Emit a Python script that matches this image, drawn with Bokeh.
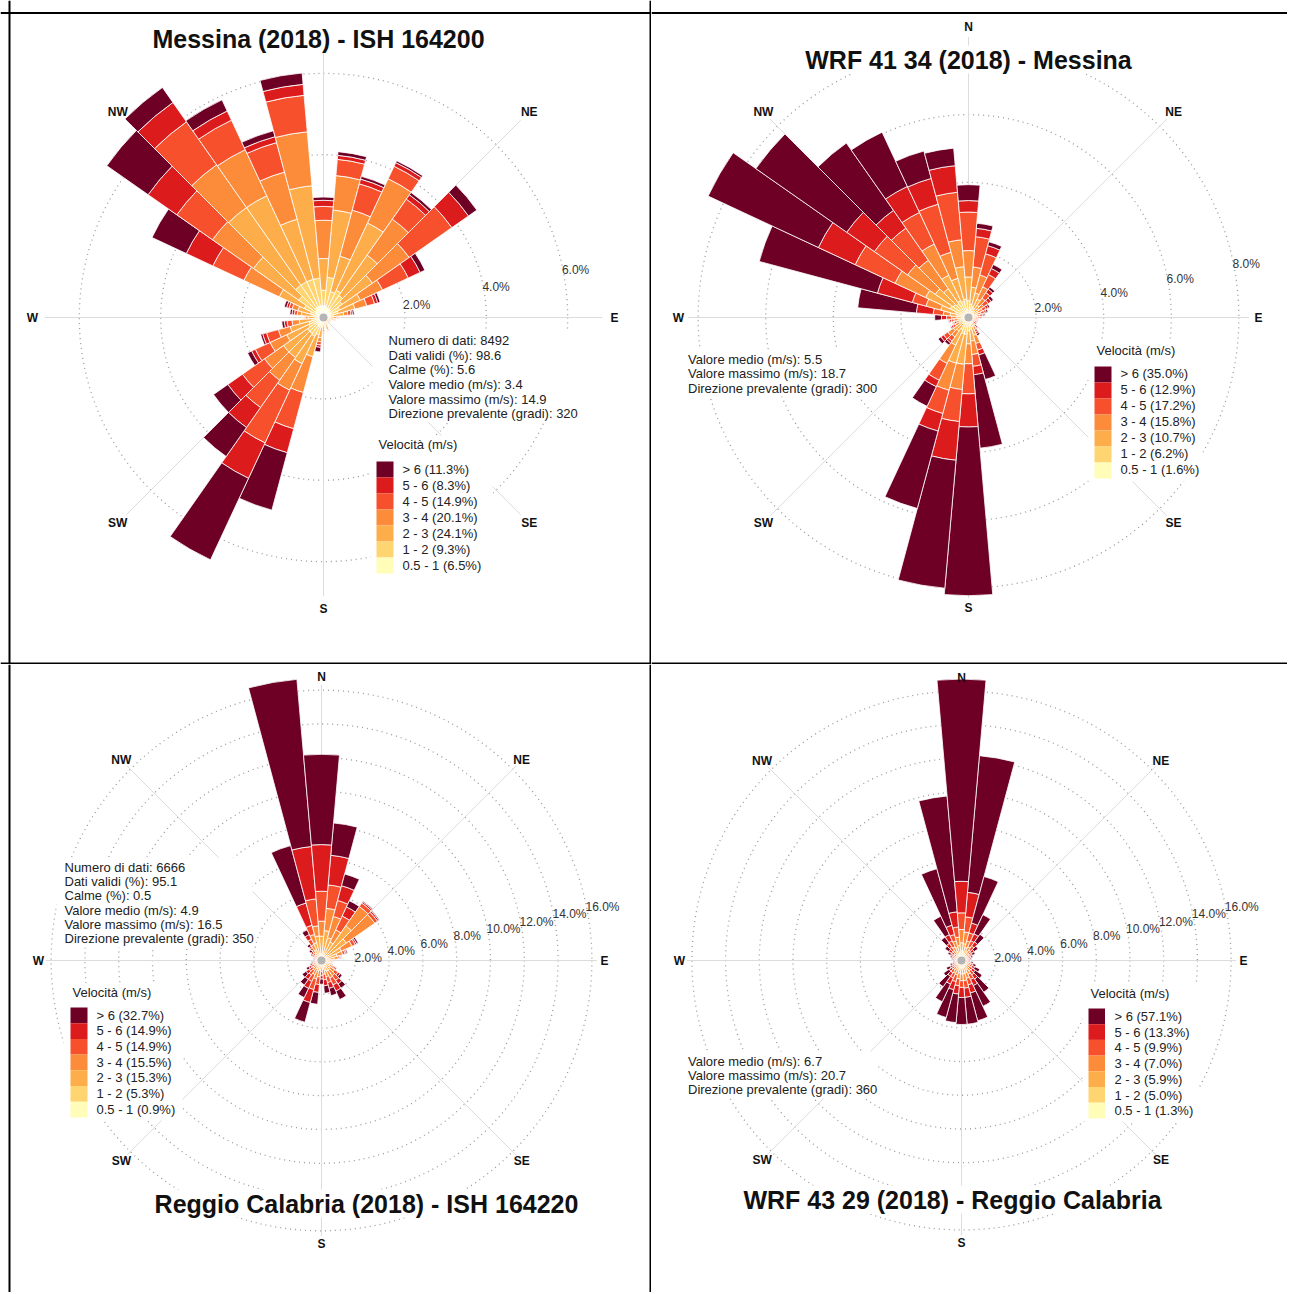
import math
from bokeh.plotting import figure
from bokeh.layouts import gridplot
from bokeh.models import ColumnDataSource, Span, Label
from bokeh.embed import file_html
from bokeh.resources import INLINE
from bokeh.core.properties import value

FONT = "Liberation Sans"

# ---------------- data ----------------
directions = list(range(10, 370, 10))          # 10 .. 360 degrees
speed_classes = ["0.5 - 1", "1 - 2", "2 - 3", "3 - 4", "4 - 5", "5 - 6", "> 6"]
palette = ["#FFFDB8", "#FED571", "#FDAE4A", "#FC8B3A", "#F6512C", "#DC1B1D", "#6E0026"]

# Messina (2018) - ISH 164200  (frequency %, per direction)
ms_obs_05_1 = [0.29,0.25,0.25,0.25,0.22,0.22,0.18,0.14,0.11,0.09,0.07,0.07,0.06,0.06,0.07,0.11,0.07,0.11,0.14,0.22,0.25,0.22,0.22,0.18,0.18,0.14,0.11,0.14,0.14,0.22,0.25,0.29,0.29,0.29,0.29,0.29]
ms_obs_1_2 = [0.70,0.41,0.49,0.41,0.34,0.22,0.19,0.11,0.08,0.06,0.04,0.04,0.03,0.03,0.04,0.08,0.04,0.08,0.11,0.22,0.26,0.26,0.26,0.22,0.19,0.15,0.10,0.15,0.19,0.30,0.49,0.68,0.68,0.68,0.68,0.38]
ms_obs_2_3 = [1.66,0.90,1.82,1.21,0.91,0.56,0.43,0.25,0.13,0.10,0.07,0.07,0.05,0.05,0.07,0.12,0.07,0.11,0.25,0.56,0.74,0.72,0.72,0.60,0.48,0.31,0.17,0.26,0.32,0.68,1.36,2.33,2.33,1.53,2.28,0.78]
ms_obs_3_4 = [0.85,1.17,1.20,1.08,1.10,0.60,0.30,0.10,0.04,0.03,0.02,0.02,0.01,0.01,0.02,0.03,0.02,0.05,0.10,0.91,0.72,0.68,0.57,0.45,0.30,0.18,0.06,0.10,0.15,0.96,1.23,1.28,1.25,1.20,1.33,0.94]
ms_obs_4_5 = [0.40,0.67,0.34,0.60,1.28,0.70,0.20,0.08,0.02,0.01,0.00,0.00,0.00,0.00,0.00,0.01,0.00,0.03,0.08,0.92,1.43,0.82,0.66,0.40,0.30,0.12,0.03,0.07,0.08,0.84,1.07,1.29,0.80,0.75,0.90,0.34]
ms_obs_5_6 = [0.10,0.12,0.10,0.13,0.50,0.32,0.08,0.04,0.01,0.01,0.00,0.00,0.00,0.00,0.00,0.00,0.00,0.01,0.06,0.61,0.96,0.60,0.44,0.10,0.10,0.07,0.02,0.06,0.06,0.72,0.86,0.58,0.25,0.15,0.27,0.15]
ms_obs_gt6 = [0.09,0.07,0.05,0.07,0.25,0.13,0.06,0.04,0.01,0.00,0.00,0.00,0.00,0.00,0.00,0.00,0.00,0.01,0.11,1.46,2.21,0.87,0.43,0.11,0.05,0.06,0.01,0.05,0.06,0.93,1.24,0.45,0.30,0.15,0.28,0.08]
ms_obs_legend = [6.5, 9.3, 24.1, 20.1, 14.9, 8.3, 11.3]

# WRF 41 34 (2018) - Messina
ms_wrf_05_1 = [0.10,0.10,0.10,0.08,0.07,0.06,0.05,0.05,0.04,0.03,0.03,0.03,0.03,0.04,0.08,0.10,0.10,0.10,0.10,0.10,0.10,0.08,0.08,0.06,0.05,0.06,0.07,0.15,0.12,0.15,0.15,0.15,0.15,0.15,0.15,0.15]
ms_wrf_1_2 = [0.30,0.25,0.20,0.17,0.13,0.12,0.10,0.09,0.08,0.06,0.06,0.06,0.06,0.08,0.12,0.20,0.25,0.30,0.40,0.40,0.30,0.17,0.22,0.12,0.10,0.12,0.13,0.20,0.28,0.45,0.40,0.35,0.40,0.35,0.40,0.35]
ms_wrf_2_3 = [0.50,0.40,0.30,0.20,0.18,0.14,0.12,0.10,0.08,0.06,0.06,0.06,0.06,0.08,0.10,0.25,0.35,0.38,0.89,0.90,0.50,0.25,0.25,0.14,0.12,0.14,0.15,0.20,0.45,0.80,0.65,0.54,0.83,0.70,0.96,0.70]
ms_wrf_3_4 = [0.60,0.55,0.40,0.25,0.17,0.14,0.12,0.10,0.08,0.06,0.06,0.06,0.06,0.08,0.10,0.25,0.40,0.59,0.75,0.83,0.60,0.20,0.20,0.12,0.10,0.12,0.15,0.20,0.45,1.00,1.00,1.03,1.02,0.80,0.80,0.78]
ms_wrf_4_5 = [0.90,0.65,0.40,0.20,0.17,0.12,0.10,0.08,0.06,0.05,0.05,0.05,0.05,0.06,0.08,0.20,0.35,0.89,0.95,0.71,0.55,0.15,0.15,0.08,0.07,0.08,0.15,0.30,0.42,1.30,1.20,1.16,1.03,1.47,1.41,1.14]
ms_wrf_5_6 = [0.25,0.25,0.20,0.12,0.10,0.07,0.06,0.05,0.04,0.03,0.03,0.03,0.03,0.04,0.06,0.15,0.25,0.98,1.15,0.54,0.21,0.07,0.10,0.05,0.04,0.05,0.15,0.50,1.07,1.20,1.00,0.64,0.85,0.79,0.79,0.34]
ms_wrf_gt6 = [0.15,0.12,0.13,0.08,0.08,0.05,0.05,0.03,0.02,0.01,0.01,0.01,0.01,0.02,0.06,0.75,2.18,4.99,3.80,2.37,0.64,0.08,0.10,0.03,0.02,0.03,0.20,1.74,3.62,3.60,3.28,2.43,1.77,0.84,0.52,0.47]
ms_wrf_legend = [1.6, 6.2, 10.7, 15.8, 17.2, 12.9, 35.0]

# Reggio Calabria (2018) - ISH 164220
rc_obs_05_1 = [0.08,0.08,0.08,0.08,0.08,0.08,0.06,0.05,0.03,0.03,0.03,0.04,0.04,0.04,0.04,0.04,0.03,0.02,0.03,0.03,0.03,0.03,0.02,0.02,0.02,0.02,0.02,0.02,0.02,0.02,0.02,0.04,0.05,0.08,0.08,0.08]
rc_obs_1_2 = [0.24,0.24,0.21,0.24,0.24,0.24,0.21,0.17,0.11,0.09,0.10,0.12,0.15,0.15,0.15,0.15,0.12,0.08,0.12,0.12,0.11,0.09,0.08,0.07,0.06,0.05,0.05,0.05,0.05,0.06,0.07,0.12,0.14,0.24,0.30,0.33]
rc_obs_2_3 = [1.46,1.08,0.91,2.18,1.48,0.98,0.68,0.53,0.32,0.27,0.30,0.39,0.46,0.51,0.51,0.46,0.38,0.30,0.43,0.48,0.40,0.32,0.30,0.23,0.19,0.17,0.14,0.14,0.14,0.19,0.24,0.39,0.51,0.78,1.08,1.03]
rc_obs_3_4 = [1.32,1.30,0.80,1.40,2.05,0.70,0.35,0.25,0.12,0.10,0.12,0.18,0.30,0.40,0.45,0.35,0.30,0.25,0.40,0.50,0.38,0.28,0.25,0.18,0.12,0.10,0.09,0.09,0.09,0.12,0.15,0.25,0.35,0.50,0.60,0.89]
rc_obs_4_5 = [1.39,0.98,0.90,0.25,0.20,0.20,0.15,0.10,0.06,0.05,0.07,0.12,0.25,0.35,0.45,0.36,0.32,0.25,0.45,0.65,0.45,0.33,0.25,0.18,0.12,0.10,0.08,0.08,0.08,0.11,0.14,0.15,0.35,0.56,1.60,1.77]
rc_obs_5_6 = [1.76,0.90,0.60,0.10,0.10,0.10,0.08,0.05,0.03,0.03,0.04,0.08,0.15,0.25,0.40,0.35,0.35,0.20,0.47,0.80,0.45,0.32,0.22,0.15,0.09,0.08,0.06,0.06,0.06,0.10,0.13,0.10,0.30,1.36,3.11,2.76]
rc_obs_gt6 = [1.92,0.72,0.40,0.05,0.05,0.10,0.07,0.05,0.03,0.03,0.04,0.07,0.15,0.30,0.55,0.45,0.45,0.30,0.70,1.20,0.60,0.40,0.28,0.17,0.10,0.08,0.06,0.06,0.06,0.10,0.15,0.15,0.30,3.52,9.93,5.34]
rc_obs_legend = [0.9, 5.3, 15.3, 15.5, 14.9, 14.9, 32.7]

# WRF 43 29 (2018) - Reggio Calabria
rc_wrf_05_1 = [0.20,0.15,0.12,0.10,0.08,0.07,0.06,0.05,0.05,0.05,0.06,0.07,0.08,0.10,0.12,0.15,0.15,0.15,0.15,0.12,0.10,0.08,0.07,0.06,0.05,0.05,0.05,0.05,0.06,0.07,0.08,0.10,0.12,0.15,0.15,0.20]
rc_wrf_1_2 = [0.35,0.30,0.23,0.20,0.15,0.12,0.10,0.09,0.08,0.10,0.12,0.14,0.15,0.20,0.23,0.30,0.30,0.30,0.30,0.23,0.20,0.17,0.14,0.12,0.10,0.08,0.08,0.09,0.10,0.12,0.15,0.20,0.23,0.30,0.35,0.40]
rc_wrf_2_3 = [0.45,0.35,0.25,0.22,0.15,0.12,0.10,0.09,0.08,0.10,0.12,0.15,0.17,0.22,0.25,0.30,0.35,0.35,0.30,0.25,0.25,0.20,0.15,0.13,0.10,0.08,0.08,0.09,0.10,0.12,0.15,0.20,0.25,0.35,0.40,0.45]
rc_wrf_3_4 = [0.70,0.40,0.30,0.25,0.18,0.14,0.11,0.10,0.08,0.11,0.14,0.17,0.20,0.25,0.30,0.35,0.40,0.40,0.35,0.30,0.30,0.22,0.18,0.15,0.11,0.08,0.08,0.10,0.11,0.14,0.18,0.25,0.30,0.40,0.50,0.79]
rc_wrf_4_5 = [0.90,0.50,0.40,0.28,0.18,0.14,0.11,0.09,0.07,0.11,0.14,0.17,0.20,0.28,0.35,0.40,0.45,0.40,0.40,0.40,0.30,0.23,0.18,0.15,0.11,0.07,0.07,0.09,0.11,0.14,0.18,0.25,0.40,0.40,0.60,0.99]
rc_wrf_5_6 = [1.46,0.60,0.45,0.30,0.18,0.13,0.10,0.08,0.07,0.10,0.13,0.17,0.20,0.30,0.40,0.50,0.55,0.60,0.50,0.50,0.40,0.25,0.18,0.15,0.10,0.07,0.07,0.08,0.10,0.13,0.18,0.25,0.40,0.57,0.90,1.87]
rc_wrf_gt6 = [8.14,2.86,1.25,0.55,0.28,0.18,0.12,0.10,0.07,0.13,0.19,0.33,0.50,0.95,1.35,1.70,1.60,1.60,1.70,1.70,1.15,0.75,0.40,0.24,0.13,0.07,0.07,0.10,0.12,0.18,0.28,0.45,1.20,3.47,6.90,12.00]
rc_wrf_legend = [1.3, 5.0, 5.9, 7.0, 9.9, 13.3, 57.1]

compass_names = ["N", "NE", "E", "SE", "S", "SW", "W", "NW"]
compass_angles = [0, 45, 90, 135, 180, 225, 270, 315]

# ---------------- layout (page pixels) ----------------
panels = [
    dict(classes=[ms_obs_05_1, ms_obs_1_2, ms_obs_2_3, ms_obs_3_4, ms_obs_4_5, ms_obs_5_6, ms_obs_gt6],
         legend=ms_obs_legend, W=651, H=664, ox=0, oy=0, cx=323, cy=317, k=40.7,
         rings=[2, 4, 6], label_r=7.15, line_len=6.85, skip=["N"],
         title="Messina (2018) - ISH 164200", title_xy=(318, 38),
         stats=["Numero di dati: 8492", "Dati validi (%): 98.6", "Calme (%): 5.6",
                "Valore medio (m/s): 3.4", "Valore massimo (m/s): 14.9",
                "Direzione prevalente (gradi): 320"],
         stats_x=388, stats_y=[340, 354.7, 369.3, 384, 398.7, 413.3], stats_block=(372, 582, 331, 422),
         leg_title=(378, 444), leg_box=(376, 393), leg_top=461, leg_h=16, leg_tx=402, leg_ty=468.5,
         leg_block=(370, 492, 435, 576),
         vspans=[9, 650], hspans=[12.5, 663]),
    dict(classes=[ms_wrf_05_1, ms_wrf_1_2, ms_wrf_2_3, ms_wrf_3_4, ms_wrf_4_5, ms_wrf_5_6, ms_wrf_gt6],
         legend=ms_wrf_legend, W=636, H=664, ox=651, oy=0, cx=968, cy=317, k=33.8,
         rings=[2, 4, 6, 8], label_r=8.58, line_len=8.3, skip=[],
         title="WRF 41 34 (2018) - Messina", title_xy=(968, 59),
         stats=["Valore medio (m/s): 5.5", "Valore massimo (m/s): 18.7",
                "Direzione prevalente (gradi): 300"],
         stats_x=687.5, stats_y=[358.5, 373, 387.5], stats_block=(680, 880, 349, 396),
         leg_title=(1096, 350), leg_box=(1094, 1111), leg_top=366, leg_h=16, leg_tx=1120, leg_ty=373,
         leg_block=(1088, 1202, 340, 481),
         vspans=[], hspans=[12.5, 663]),
    dict(classes=[rc_obs_05_1, rc_obs_1_2, rc_obs_2_3, rc_obs_3_4, rc_obs_4_5, rc_obs_5_6, rc_obs_gt6],
         legend=rc_obs_legend, W=651, H=628, ox=0, oy=664, cx=321, cy=960, k=16.9,
         rings=[2, 4, 6, 8, 10, 12, 14, 16], label_r=16.75, line_len=16.3, skip=[],
         title="Reggio Calabria (2018) - ISH 164220", title_xy=(366, 1203),
         stats=["Numero di dati: 6666", "Dati validi (%): 95.1", "Calme (%): 0.5",
                "Valore medio (m/s): 4.9", "Valore massimo (m/s): 16.5",
                "Direzione prevalente (gradi): 350"],
         stats_x=64, stats_y=[866.5, 881, 895.3, 909.5, 923.7, 938], stats_block=(56, 252, 857, 947),
         leg_title=(72, 992), leg_box=(70, 87), leg_top=1007, leg_h=15.7, leg_tx=96, leg_ty=1014.5,
         leg_block=(63, 182, 983, 1120),
         vspans=[9, 650], hspans=[]),
    dict(classes=[rc_wrf_05_1, rc_wrf_1_2, rc_wrf_2_3, rc_wrf_3_4, rc_wrf_4_5, rc_wrf_5_6, rc_wrf_gt6],
         legend=rc_wrf_legend, W=636, H=628, ox=651, oy=664, cx=961, cy=960, k=16.85,
         rings=[2, 4, 6, 8, 10, 12, 14, 16], label_r=16.74, line_len=16.3, skip=[],
         title="WRF 43 29 (2018) - Reggio Calabria", title_xy=(952, 1199),
         stats=["Valore medio (m/s): 6.7", "Valore massimo (m/s): 20.7",
                "Direzione prevalente (gradi): 360"],
         stats_x=687.5, stats_y=[1060.5, 1075, 1089.3], stats_block=(680, 876, 1051, 1098),
         leg_title=(1090, 993), leg_box=(1088, 1104.5), leg_top=1008, leg_h=15.7, leg_tx=1114, leg_ty=1016,
         leg_block=(1082, 1198, 984, 1121),
         vspans=[], hspans=[]),
]


def make_panel(c):
    W, H, ox, oy, cx, cy, k = c["W"], c["H"], c["ox"], c["oy"], c["cx"], c["cy"], c["k"]
    pcx, pcy = cx - ox, cy - oy
    p = figure(width=W, height=H, x_range=(-pcx / k, (W - pcx) / k),
               y_range=(-(H - pcy) / k, pcy / k), output_backend="svg",
               toolbar_location=None, x_axis_type=None, y_axis_type=None, min_border=0)
    p.outline_line_color = None
    p.background_fill_color = "white"
    p.border_fill_color = "white"
    p.grid.visible = False

    def dx(px):
        return (px - cx) / k

    def dy(py):
        return (cy - py) / k

    # rings
    rings = c["rings"]
    p.circle(x=[0] * len(rings), y=[0] * len(rings), radius=rings, fill_color=None,
             line_color="#9a9a9a", line_dash="1 4", line_width=1.3)
    # axis lines
    L = c["line_len"]
    ang = [math.radians(a) for a in compass_angles]
    p.segment(x0=[0] * 8, y0=[0] * 8, x1=[L * math.sin(a) for a in ang],
              y1=[L * math.cos(a) for a in ang], line_color="#dcdcdc", line_width=1)
    # white backgrounds behind text blocks
    blocks = [c["stats_block"], c["leg_block"]]
    p.quad(left=[dx(b[0]) for b in blocks], right=[dx(b[1]) for b in blocks],
           top=[dy(b[2]) for b in blocks], bottom=[dy(b[3]) for b in blocks],
           fill_color="white", line_color=None)

    # bars
    rows = dict(inner=[], outer=[], start=[], end=[], color=[])
    for i, d in enumerate(directions):
        cum = 0.0
        for j in range(7):
            v = c["classes"][j][i]
            if v <= 0:
                continue
            rows["inner"].append(cum)
            cum += v
            rows["outer"].append(cum)
            rows["start"].append(math.radians(90 - d - 5))
            rows["end"].append(math.radians(90 - d + 5))
            rows["color"].append(palette[j])
    p.annular_wedge(x=0, y=0, inner_radius="inner", outer_radius="outer",
                    start_angle="start", end_angle="end", fill_color="color",
                    line_color="white", line_width=0.8, source=ColumnDataSource(rows))
    p.scatter(x=[0], y=[0], size=8, fill_color="#b5b5b5", line_color=None)

    # compass labels
    R = c["label_r"]
    names = [n for n in compass_names if n not in c["skip"]]
    angs = [math.radians(a) for n, a in zip(compass_names, compass_angles) if n not in c["skip"]]
    p.text(x=[R * math.sin(a) for a in angs], y=[R * math.cos(a) for a in angs], text=names,
           text_font=value(FONT), text_font_size="12px", text_font_style="bold",
           text_color="#111111", text_align="center", text_baseline="middle")

    # ring labels
    ra = math.radians(77.5)
    p.text(x=[r * math.sin(ra) for r in rings], y=[r * math.cos(ra) - 5 / k for r in rings],
           text=["%.1f%%" % r for r in rings], text_font=value(FONT), text_font_size="12px",
           text_color="#333333", text_align="left", text_baseline="middle")

    # statistics
    p.text(x=[dx(c["stats_x"])] * len(c["stats"]), y=[dy(y) for y in c["stats_y"]],
           text=c["stats"], text_font=value(FONT), text_font_size="13px",
           text_color="#222222", text_align="left", text_baseline="middle")

    # legend
    lt = c["leg_title"]
    p.text(x=[dx(lt[0])], y=[dy(lt[1])], text=["Velocità (m/s)"], text_font=value(FONT),
           text_font_size="13px", text_color="#222222", text_align="left", text_baseline="middle")
    order = list(range(6, -1, -1))
    h = c["leg_h"]
    x0, x1 = c["leg_box"]
    p.quad(left=[dx(x0)] * 7, right=[dx(x1)] * 7,
           top=[dy(c["leg_top"] + i * h) for i in range(7)],
           bottom=[dy(c["leg_top"] + (i + 1) * h) for i in range(7)],
           fill_color=[palette[j] for j in order], line_color=None)
    p.text(x=[dx(c["leg_tx"])] * 7, y=[dy(c["leg_ty"] + i * h) for i in range(7)],
           text=["%s (%.1f%%)" % (speed_classes[j], c["legend"][j]) for j in order],
           text_font=value(FONT), text_font_size="13px", text_color="#222222",
           text_align="left", text_baseline="middle")

    # title
    tx, ty = c["title_xy"]
    p.add_layout(Label(x=dx(tx), y=dy(ty), text=c["title"], text_font=FONT,
                       text_font_size="25px", text_font_style="bold", text_color="#111111",
                       text_align="center", text_baseline="middle",
                       background_fill_color="white"))

    # table borders
    for vx in c["vspans"]:
        p.add_layout(Span(location=dx(vx), dimension="height", line_color="black", line_width=2))
    for hy in c["hspans"]:
        p.add_layout(Span(location=dy(hy), dimension="width", line_color="black", line_width=2))
    return p


figs = [make_panel(c) for c in panels]
grid = gridplot([[figs[0], figs[1]], [figs[2], figs[3]]], toolbar_location=None)

open("out.html", "w").write(file_html(grid, INLINE, title="Wind roses"))
